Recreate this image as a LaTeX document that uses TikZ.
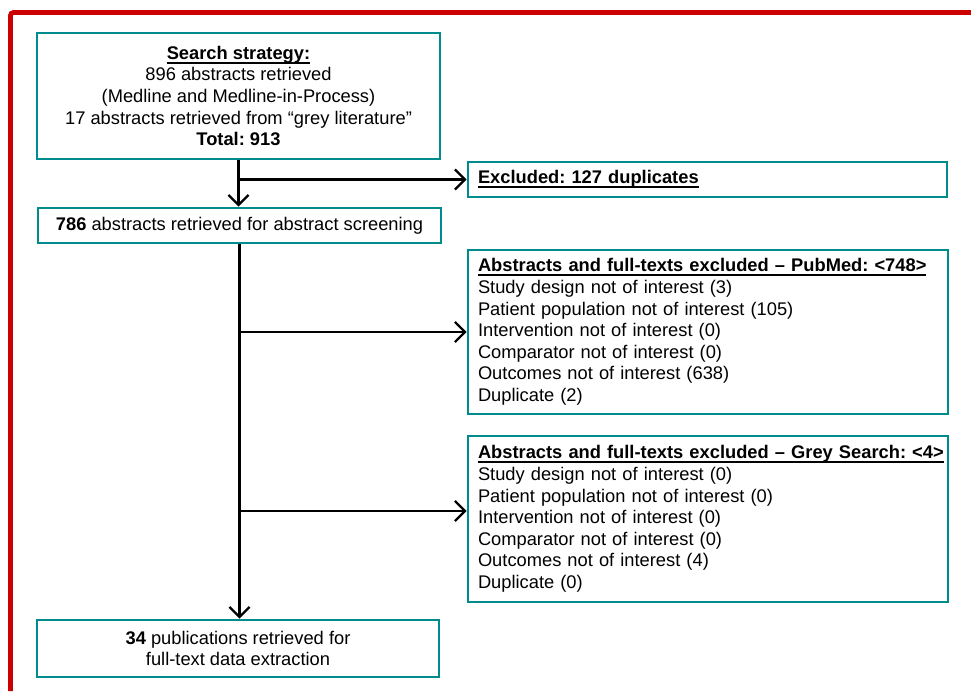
\documentclass[tikz,border=0pt]{standalone}
\usepackage{fontspec}
\setmainfont{Liberation Sans}
\usetikzlibrary{arrows.meta}
\definecolor{tealbox}{RGB}{0,139,143}
\definecolor{redframe}{RGB}{204,0,0}
\newcommand{\ulbox}[1]{\leavevmode\setbox0=\hbox{#1}\rlap{\rule[-4.5pt]{\wd0}{2.2pt}}\box0}
\frenchspacing
\begin{document}
\begin{tikzpicture}[x=1pt,y=-1pt,
  box/.style={draw=tealbox, line width=2.8pt, fill=white, inner sep=0pt, font=\fontsize{18.3}{21.6}\selectfont},
  cbox/.style={box, align=center},
  lbox/.style={box, align=left, inner xsep=10pt},
  arr/.style={line width=2.3pt, -{Straight Barb[length=10pt,width=20pt]}}]
\useasboundingbox (0,0) rectangle (971,691);
\fill[white] (0,0) rectangle (971,691);
\draw[redframe, line width=4.8pt, rounded corners=3pt] (10.5,691) -- (10.5,12.5) -- (971,12.5);

\node[cbox, minimum width=403pt, minimum height=126pt] (search) at (238.5,96)
  {\ulbox{\textbf{Search strategy:}}\\896 abstracts retrieved\\(Medline and Medline-in-Process)\\17 abstracts retrieved from “grey literature”\\\textbf{Total: 913}};
\node[lbox, text width=459pt, minimum height=35pt] (excl) at (707.5,179.5)
  {\ulbox{\textbf{Excluded: 127 duplicates}}};
\node[cbox, minimum width=403pt, minimum height=35pt] (b786) at (239.5,225.5)
  {\textbf{786} abstracts retrieved for abstract screening};
\node[lbox, text width=460pt, minimum height=164pt] (pub) at (708,332)
  {\ulbox{\textbf{Abstracts and full-texts excluded – PubMed: <748>}}\\
   Study design not of interest (3)\\
   Patient population not of interest (105)\\
   Intervention not of interest (0)\\
   Comparator not of interest (0)\\
   Outcomes not of interest (638)\\
   Duplicate (2)};
\node[lbox, text width=460pt, minimum height=166pt] (grey) at (708,519)
  {\ulbox{\textbf{Abstracts and full-texts excluded – Grey Search: <4>}}\\
   Study design not of interest (0)\\
   Patient population not of interest (0)\\
   Intervention not of interest (0)\\
   Comparator not of interest (0)\\
   Outcomes not of interest (4)\\
   Duplicate (0)};
\node[cbox, minimum width=402pt, minimum height=57pt] (final) at (238,648.5)
  {\textbf{34} publications retrieved for\\full-text data extraction};

\coordinate (j1) at (search.south |- excl.west);
\coordinate (j2) at (b786.south |- pub.west);
\coordinate (j3) at (239,511);

\draw[arr] (search.south) -- (search.south |- b786.north);
\draw[arr] (j1) -- (excl.west);
\draw[arr] (b786.south) -- (b786.south |- final.north);
\draw[arr] (j2) -- (pub.west);
\draw[arr] (j3) -- (j3 -| grey.west);
\end{tikzpicture}
\end{document}
